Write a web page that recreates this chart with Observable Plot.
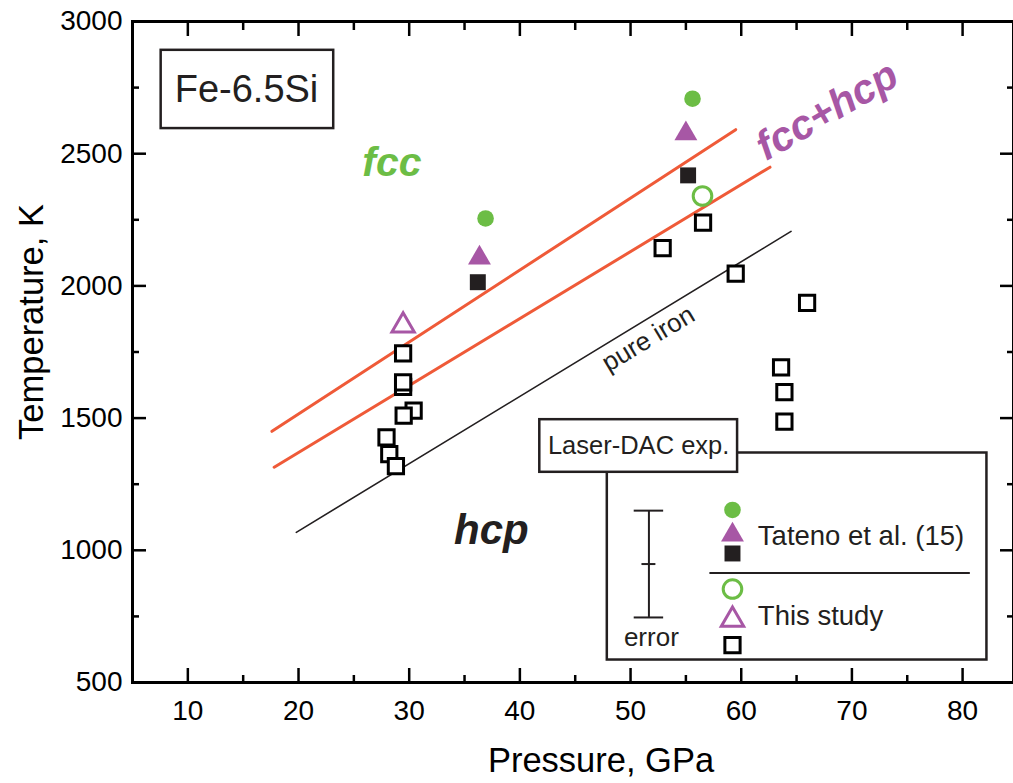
<!DOCTYPE html>
<html>
<head>
<meta charset="utf-8">
<script src="https://cdn.jsdelivr.net/npm/d3@7"></script>
<script src="https://cdn.jsdelivr.net/npm/@observablehq/plot@0.6"></script>
<style>
  html, body { margin: 0; padding: 0; background: #fff; }
</style>
</head>
<body>
<div id="chart"></div>
<script>
// ---- tick values ----
const xMajor = [10, 20, 30, 40, 50, 60, 70, 80];
const xMinor = [15, 25, 35, 45, 55, 65, 75];
const yMajor = [500, 1000, 1500, 2000, 2500, 3000];
const yMinor = [750, 1250, 1750, 2250, 2750];

// ---- Tateno et al. (15) ----
const tatenoFccP = [36.9, 55.6];
const tatenoFccT = [2255, 2708];
const tatenoMixP = [36.35, 55.0];
const tatenoMixT = [2106, 2576];
const tatenoHcpP = [36.2, 55.2];
const tatenoHcpT = [2014, 2418];

// ---- This study ----
const thisFccP = [56.5];
const thisFccT = [2340];
const thisMixP = [29.45];
const thisMixT = [1850];
const thisHcpP = [29.45, 29.45, 29.45, 30.4, 29.5, 27.95, 28.2, 28.8, 56.55, 52.9, 59.5, 65.95, 63.6, 63.9, 63.9];
const thisHcpT = [1745, 1618, 1635, 1528, 1509, 1427, 1364, 1318, 2239, 2143, 2046, 1936, 1692, 1598, 1487];

// ---- phase boundaries ----
const upperP = [17.6, 59.5];
const upperT = [1450, 2591];
const lowerP = [17.8, 62.6];
const lowerT = [1314, 2449];
const ironP = [19.8, 64.5];
const ironT = [1068, 2206];

// ---- error bar (legend) ----
const errP = 51.66;
const errT = [746, 1150];
const errMidT = 948;

const zip = (P, T) => P.map((p, i) => ({P: p, T: T[i]}));

const green = "#6cbd45";
const purple = "#a757a5";
const orange = "#ef5a38";
const ink = "#231f20";
const font = "'Liberation Sans', Arial, Helvetica, sans-serif";

// layout of the in-plot annotations (in data units)
const L = {
  sampleBox: {x1: 7.59, x2: 23.18, y1: 2595, y2: 2891},
  sample: {P: 15.3, T: 2743},
  fcc: {P: 28.44, T: 2467},
  hcp: {P: 37.42, T: 1076},
  mix: {P: 67.76, T: 2662},
  iron: {P: 51.6, T: 1800},
  legendBox: {x1: 47.9, x2: 82.2, y1: 585, y2: 1368},
  headerBox: {x1: 41.8, x2: 59.67, y1: 1295, y2: 1494},
  header: {P: 50.73, T: 1394},
  symP: 59.21,
  textP: 61.5
};

const chart = Plot.plot({
  width: 1013,
  height: 783,
  marginLeft: 132,
  marginRight: 0,
  marginTop: 21,
  marginBottom: 101,
  style: {fontFamily: font, background: "white", color: "black", overflow: "visible"},
  x: {domain: [5, 84.6], label: null},
  y: {domain: [500, 3000], label: null},
  marks: [
    // inward ticks
    Plot.axisX({anchor: "bottom", ticks: xMajor, tickSize: -14, strokeWidth: 2.5, tickFormat: () => "", label: null}),
    Plot.axisX({anchor: "bottom", ticks: xMinor, tickSize: -7, strokeWidth: 2.5, tickFormat: () => "", label: null}),
    Plot.axisX({anchor: "top", ticks: xMajor, tickSize: -14, strokeWidth: 2.5, tickFormat: () => "", label: null}),
    Plot.axisX({anchor: "top", ticks: xMinor, tickSize: -8, strokeWidth: 2.5, tickFormat: () => "", label: null}),
    Plot.axisY({anchor: "left", ticks: yMajor, tickSize: -14, strokeWidth: 2.5, tickFormat: () => "", label: null}),
    Plot.axisY({anchor: "left", ticks: yMinor, tickSize: -7, strokeWidth: 2.5, tickFormat: () => "", label: null}),
    Plot.axisY({anchor: "right", ticks: yMajor, tickSize: -14, strokeWidth: 2.5, tickFormat: () => "", label: null}),
    Plot.axisY({anchor: "right", ticks: yMinor, tickSize: -7, strokeWidth: 2.5, tickFormat: () => "", label: null}),
    // tick labels
    Plot.axisX({anchor: "bottom", ticks: xMajor, tickSize: 0, tickPadding: 18, fontSize: 28, tickFormat: d => String(d), label: null}),
    Plot.axisY({anchor: "left", ticks: yMajor, tickSize: 0, tickPadding: 10, fontSize: 28, tickFormat: d => String(d), label: null}),
    // axis titles
    Plot.text(["Pressure, GPa"], {frameAnchor: "bottom", textAnchor: "middle", dx: 28, dy: 78, fontSize: 34.5, lineAnchor: "middle", fill: "black"}),
    Plot.text(["Temperature, K"], {frameAnchor: "left", textAnchor: "middle", rotate: -90, dx: -101, dy: -30, fontSize: 34.5, lineAnchor: "middle", fill: "black"}),

    // phase boundaries
    Plot.line(zip(upperP, upperT), {x: "P", y: "T", stroke: orange, strokeWidth: 3}),
    Plot.line(zip(lowerP, lowerT), {x: "P", y: "T", stroke: orange, strokeWidth: 3}),
    Plot.line(zip(ironP, ironT), {x: "P", y: "T", stroke: ink, strokeWidth: 1.6}),

    // Tateno et al.
    Plot.dot(zip(tatenoFccP, tatenoFccT), {x: "P", y: "T", symbol: "circle", r: 8.3, fill: green}),
    Plot.dot(zip(tatenoMixP, tatenoMixT), {x: "P", y: "T", symbol: "triangle", r: 8.5, fill: purple}),
    Plot.dot(zip(tatenoHcpP, tatenoHcpT), {x: "P", y: "T", symbol: "square", r: 9, fill: ink}),
    // This study
    Plot.dot(zip(thisFccP, thisFccT), {x: "P", y: "T", symbol: "circle", r: 9.3, fill: "white", stroke: green, strokeWidth: 3}),
    Plot.dot(zip(thisMixP, thisMixT), {x: "P", y: "T", symbol: "triangle", r: 8.3, fill: "white", stroke: purple, strokeWidth: 3}),
    Plot.dot(zip(thisHcpP, thisHcpT), {x: "P", y: "T", symbol: "square", r: 8.6, fill: "white", stroke: "black", strokeWidth: 3}),

    // region labels
    Plot.text(["fcc"], {x: L.fcc.P, y: L.fcc.T, fontSize: 41, fontWeight: "bold", fontStyle: "italic", fill: green}),
    Plot.text(["hcp"], {x: L.hcp.P, y: L.hcp.T, fontSize: 42, fontWeight: "bold", fontStyle: "italic", fill: ink}),
    Plot.text(["fcc+hcp"], {x: L.mix.P, y: L.mix.T, fontSize: 41, fontWeight: "bold", fontStyle: "italic", fill: purple, rotate: -30}),
    Plot.text(["pure iron"], {x: L.iron.P, y: L.iron.T, fontSize: 26, fill: ink, rotate: -31}),

    // sample label
    Plot.rect([L.sampleBox], {x1: "x1", x2: "x2", y1: "y1", y2: "y2", fill: "none", stroke: ink, strokeWidth: 2.5}),
    Plot.text(["Fe-6.5Si"], {x: L.sample.P, y: L.sample.T, fontSize: 38, fill: ink}),

    // legend
    Plot.rect([L.legendBox], {x1: "x1", x2: "x2", y1: "y1", y2: "y2", fill: "white", stroke: ink, strokeWidth: 2.5}),
    Plot.rect([L.headerBox], {x1: "x1", x2: "x2", y1: "y1", y2: "y2", fill: "white", stroke: ink, strokeWidth: 2.5}),
    Plot.text(["Laser-DAC exp."], {x: L.header.P, y: L.header.T, fontSize: 25.5, fill: ink}),
    Plot.ruleX([errP], {x: d => d, y1: errT[0], y2: errT[1], stroke: ink, strokeWidth: 2}),
    Plot.ruleY(errT, {y: d => d, x1: errP - 1.33, x2: errP + 1.33, stroke: ink, strokeWidth: 2}),
    Plot.ruleY([errMidT], {y: d => d, x1: errP - 0.63, x2: errP + 0.63, stroke: ink, strokeWidth: 2}),
    Plot.text(["error"], {x: 51.88, y: 670, fontSize: 26, fill: ink}),
    Plot.ruleY([914], {y: d => d, x1: 57.17, x2: 80.7, stroke: ink, strokeWidth: 2}),
    Plot.dot([1152.5], {x: L.symP, y: d => d, symbol: "circle", r: 8.3, fill: green}),
    Plot.dot([1058], {x: L.symP, y: d => d, symbol: "triangle", r: 8.5, fill: purple}),
    Plot.dot([988], {x: L.symP, y: d => d, symbol: "square", r: 9, fill: ink}),
    Plot.dot([853.5], {x: L.symP, y: d => d, symbol: "circle", r: 9.3, fill: "white", stroke: green, strokeWidth: 3}),
    Plot.dot([737], {x: L.symP, y: d => d, symbol: "triangle", r: 8.3, fill: "white", stroke: purple, strokeWidth: 3}),
    Plot.dot([641.6], {x: L.symP, y: d => d, symbol: "square", r: 8.6, fill: "white", stroke: "black", strokeWidth: 3}),
    Plot.text(["Tateno et al. (15)"], {x: L.textP, y: 1055, textAnchor: "start", fontSize: 27.5, fill: ink}),
    Plot.text(["This study"], {x: L.textP, y: 752, textAnchor: "start", fontSize: 27.5, fill: ink}),

    // frame
    Plot.frame({stroke: "black", strokeWidth: 3})
  ]
});

document.getElementById("chart").appendChild(chart);
</script>
</body>
</html>
